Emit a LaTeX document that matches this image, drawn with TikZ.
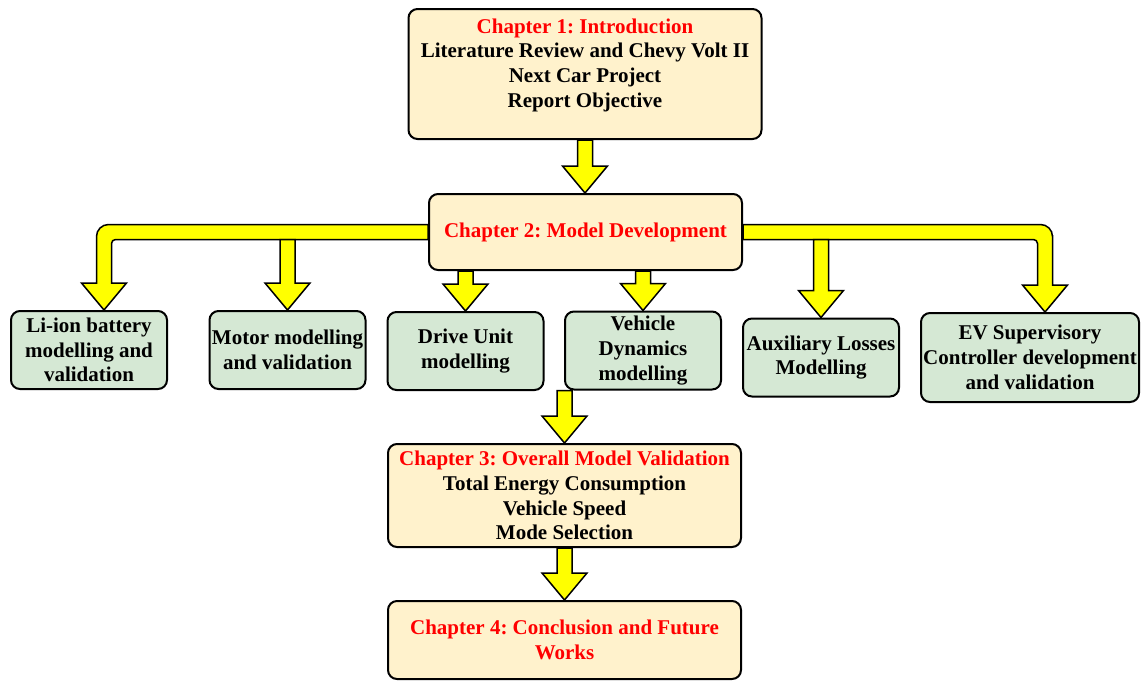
\documentclass[tikz,border=0pt]{standalone}
\usepackage{fontspec}
\setmainfont{Liberation Serif}
\usetikzlibrary{calc}
\definecolor{chapfill}{HTML}{FFF2CC}
\definecolor{partfill}{HTML}{D5E8D4}
\definecolor{arrowfill}{HTML}{FFFF00}
\frenchspacing
\tikzset{
	box/.style={draw=black, line width=2pt, rounded corners=9pt, align=center, inner sep=1pt,
		font=\bfseries\fontsize{21}{24.7}\selectfont},
	chapter/.style={box, fill=chapfill, minimum width=353},
	part/.style={box, fill=partfill, minimum width=156, minimum height=78},
	yarrow/.style={draw=black, line width=1.5pt, fill=arrowfill, line join=miter},
}
% straight block arrow, shaft from #1 down to the tip at #2
\newcommand{\blockarrow}[2]{%
	\path[yarrow] let \p1=(#1), \p2=(#2) in
		(\x1-7.5pt,\y1) -- (\x1-7.5pt,\y2+27pt) -- (\x1-22.5pt,\y2+27pt) -- (\x1,\y2)
		-- (\x1+22.5pt,\y2+27pt) -- (\x1+7.5pt,\y2+27pt) -- (\x1+7.5pt,\y1) -- cycle;
}
% bent block arrow, bar from side #1 of chapter 2, tip at #2, #3 = -1 left, 1 right
\newcommand{\branch}[3]{%
	\path[yarrow] let \p1=(#1), \p2=(#2) in
		(\x1,\y1+7.5pt) [rounded corners=12pt]
		-- ({\x2+(#3)*7.5pt},\y1+7.5pt) -- ({\x2+(#3)*7.5pt},\y1-15pt) [sharp corners]
		-- ({\x2+(#3)*7.5pt},\y2+27pt) -- ({\x2+(#3)*22.5pt},\y2+27pt) -- (\x2,\y2)
		-- ({\x2-(#3)*22.5pt},\y2+27pt) -- ({\x2-(#3)*7.5pt},\y2+27pt)
		-- ({\x2-(#3)*7.5pt},\y1-15pt) [rounded corners=4pt]
		-- ({\x2-(#3)*7.5pt},\y1-7.5pt) -- ({\x2-(#3)*30pt},\y1-7.5pt) [sharp corners]
		-- (\x1,\y1-7.5pt) -- cycle;
}

\begin{document}
\begin{tikzpicture}[x=1pt, y=-1pt]
	\useasboundingbox (0,0) rectangle (1147,681);

	\node[chapter, minimum height=130] (ch1) at (585,74)
		{\textcolor{red}{Chapter 1: Introduction}\\Literature Review and Chevy Volt II\\Next Car Project\\Report Objective\rule[-22pt]{0pt}{22pt}};
	\node[chapter, minimum width=313, minimum height=76] (ch2) at (585.5,232)
		{\textcolor{red}{Chapter 2: Model Development}};

	\node[part] (battery) at (89,350) {Li-ion battery\\modelling and\\validation};
	\node[part] (motor) at (287.5,350) {Motor modelling\\and validation};
	\node[part] (drive) at (465.5,351) {Drive Unit\\modelling};
	\node[part] (vehicle) at (643,350.5) {Vehicle\\Dynamics\\modelling};
	\node[part] (aux) at (821,357.5) {Auxiliary Losses\\Modelling};
	\node[part, minimum width=218, minimum height=89] (ev) at (1030,357.5)
		{EV Supervisory\\Controller development\\and validation};

	\node[chapter, minimum height=103] (ch3) at (564.5,495.5)
		{\textcolor{red}{Chapter 3: Overall Model Validation}\\Total Energy Consumption\\Vehicle Speed\\Mode Selection};
	\node[chapter, minimum height=78] (ch4) at (564.5,640)
		{\textcolor{red}{Chapter 4: Conclusion and Future}\\\textcolor{red}{Works}};

	\blockarrow{ch1.south}{ch2.north}
	\branch{ch2.west}{$(battery.north)+(15,0)$}{-1}
	\branch{ch2.east}{$(ev.north)+(15,0)$}{1}
	\blockarrow{$(motor.north |- ch2.west)+(0,7.5)$}{motor.north}
	\blockarrow{$(aux.north |- ch2.east)+(0,7.5)$}{aux.north}
	\blockarrow{drive.north |- ch2.south}{drive.north}
	\blockarrow{vehicle.north |- ch2.south}{vehicle.north}
	\blockarrow{vehicle.south -| ch3.north}{ch3.north}
	\blockarrow{ch3.south}{ch4.north}
\end{tikzpicture}
\end{document}
